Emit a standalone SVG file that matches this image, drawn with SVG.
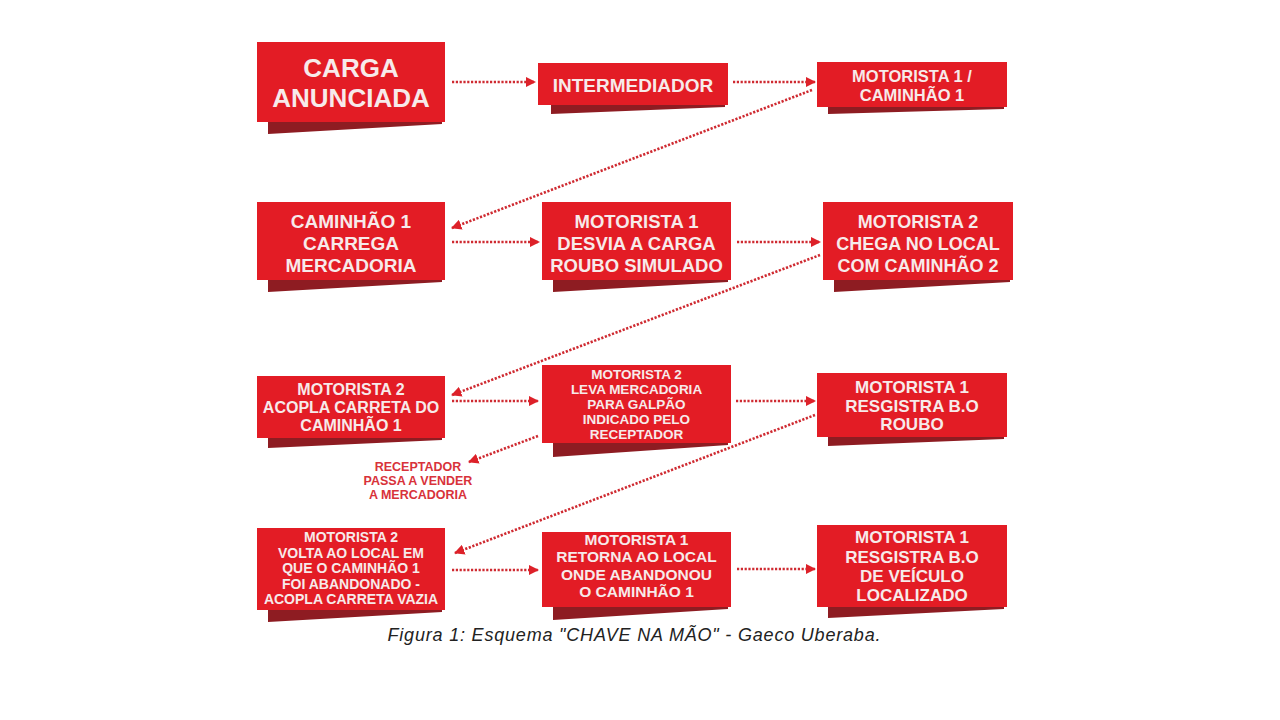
<svg xmlns="http://www.w3.org/2000/svg" width="1280" height="720" viewBox="0 0 1280 720">
<defs>
<style>
.box{fill:#e31c25}
.sh{fill:#8e1c22}
.t{font-family:"Liberation Sans",Arial,sans-serif;font-weight:bold;fill:#f7eaea;text-anchor:middle}
.c{fill:none;stroke:#cf2a31;stroke-width:2.6;stroke-dasharray:2.2 1.6}
.rt{font-family:"Liberation Sans",Arial,sans-serif;font-weight:bold;fill:#d8323a;text-anchor:middle;font-size:12.5px}
.cap{font-family:"Liberation Sans",Arial,sans-serif;font-style:italic;fill:#222;text-anchor:middle;font-size:18px}
</style>
<marker id="ah" viewBox="0 0 10 10" refX="9" refY="5" markerWidth="4" markerHeight="4" orient="auto" markerUnits="strokeWidth">
<path d="M0,0 L10,5 L0,10 z" fill="#dd2129"/>
</marker>
</defs>
<rect width="1280" height="720" fill="#ffffff"/>

<g id="connectors">
<line class="c" x1="452" y1="82" x2="535" y2="82" marker-end="url(#ah)"/>
<line class="c" x1="733" y1="82" x2="815" y2="82" marker-end="url(#ah)"/>
<line class="c" x1="812" y1="90" x2="452" y2="228" marker-end="url(#ah)"/>
<line class="c" x1="452" y1="242" x2="539" y2="242" marker-end="url(#ah)"/>
<line class="c" x1="737" y1="242" x2="820" y2="242" marker-end="url(#ah)"/>
<line class="c" x1="820" y1="255" x2="452" y2="395" marker-end="url(#ah)"/>
<line class="c" x1="452" y1="401" x2="538" y2="401" marker-end="url(#ah)"/>
<line class="c" x1="736" y1="401" x2="815" y2="401" marker-end="url(#ah)"/>
<line class="c" x1="538" y1="436" x2="469" y2="462" marker-end="url(#ah)"/>
<line class="c" x1="815" y1="415" x2="455" y2="553" marker-end="url(#ah)"/>
<line class="c" x1="452" y1="570" x2="538" y2="570" marker-end="url(#ah)"/>
<line class="c" x1="737" y1="569" x2="815" y2="569" marker-end="url(#ah)"/>
</g>

<g id="n1">
<polygon class="sh" points="268,122 442,122 442,124 268,134"/>
<rect class="box" x="257" y="42" width="188" height="80"/>
<text class="t" x="351" y="77" font-size="26">CARGA</text>
<text class="t" x="351" y="107" font-size="26">ANUNCIADA</text>
</g>
<g id="n2">
<polygon class="sh" points="551,105 725,105 725,107 551,114"/>
<rect class="box" x="538" y="63" width="190" height="42"/>
<text class="t" x="633" y="92" font-size="19">INTERMEDIADOR</text>
</g>
<g id="n3">
<polygon class="sh" points="828,107 1004,107 1004,109 828,114"/>
<rect class="box" x="817" y="62" width="190" height="45"/>
<text class="t" x="912" y="82" font-size="16.5">MOTORISTA 1 /</text>
<text class="t" x="912" y="101" font-size="16.5">CAMINHÃO 1</text>
</g>

<g id="n4">
<polygon class="sh" points="268,280 442,280 442,282 268,292"/>
<rect class="box" x="257" y="202" width="188" height="78"/>
<text class="t" x="351" y="228" font-size="19">CAMINHÃO 1</text>
<text class="t" x="351" y="250" font-size="19">CARREGA</text>
<text class="t" x="351" y="272" font-size="19">MERCADORIA</text>
</g>
<g id="n5">
<polygon class="sh" points="553,280 728,280 728,282 553,292"/>
<rect class="box" x="542" y="202" width="189" height="78"/>
<text class="t" x="636.5" y="228" font-size="18.5">MOTORISTA 1</text>
<text class="t" x="636.5" y="250" font-size="18.5">DESVIA A CARGA</text>
<text class="t" x="636.5" y="272" font-size="18.5">ROUBO SIMULADO</text>
</g>
<g id="n6">
<polygon class="sh" points="834,280 1010,280 1010,282 834,292"/>
<rect class="box" x="823" y="202" width="190" height="78"/>
<text class="t" x="918" y="228" font-size="18">MOTORISTA 2</text>
<text class="t" x="918" y="250" font-size="18">CHEGA NO LOCAL</text>
<text class="t" x="918" y="272" font-size="18">COM CAMINHÃO 2</text>
</g>

<g id="n7">
<polygon class="sh" points="268,438 442,438 442,440 268,448"/>
<rect class="box" x="257" y="376" width="188" height="62"/>
<text class="t" x="351" y="395" font-size="16">MOTORISTA 2</text>
<text class="t" x="351" y="413" font-size="16">ACOPLA CARRETA DO</text>
<text class="t" x="351" y="431" font-size="16">CAMINHÃO 1</text>
</g>
<g id="n8">
<polygon class="sh" points="553,443 728,443 728,445 553,457"/>
<rect class="box" x="542" y="365" width="189" height="78"/>
<text class="t" x="636.5" y="379" font-size="13.5">MOTORISTA 2</text>
<text class="t" x="636.5" y="394" font-size="13.5">LEVA MERCADORIA</text>
<text class="t" x="636.5" y="409" font-size="13.5">PARA GALPÃO</text>
<text class="t" x="636.5" y="424" font-size="13.5">INDICADO PELO</text>
<text class="t" x="636.5" y="439" font-size="13.5">RECEPTADOR</text>
</g>
<g id="n9">
<polygon class="sh" points="828,437 1004,437 1004,439 828,446"/>
<rect class="box" x="817" y="373" width="190" height="64"/>
<text class="t" x="912" y="393" font-size="17">MOTORISTA 1</text>
<text class="t" x="912" y="412" font-size="17">RESGISTRA B.O</text>
<text class="t" x="912" y="430" font-size="17">ROUBO</text>
</g>
<g id="n13">
<text class="rt" x="418" y="471">RECEPTADOR</text>
<text class="rt" x="418" y="485">PASSA A VENDER</text>
<text class="rt" x="418" y="499">A MERCADORIA</text>
</g>

<g id="n10">
<polygon class="sh" points="268,610 442,610 442,612 268,622"/>
<rect class="box" x="257" y="528" width="188" height="82"/>
<text class="t" x="351" y="542" font-size="14">MOTORISTA 2</text>
<text class="t" x="351" y="558" font-size="14">VOLTA AO LOCAL EM</text>
<text class="t" x="351" y="573" font-size="14">QUE O CAMINHÃO 1</text>
<text class="t" x="351" y="589" font-size="14">FOI ABANDONADO -</text>
<text class="t" x="351" y="604" font-size="14">ACOPLA CARRETA VAZIA</text>
</g>
<g id="n11">
<polygon class="sh" points="553,607 728,607 728,609 553,620"/>
<rect class="box" x="542" y="532" width="189" height="75"/>
<text class="t" x="636.5" y="545" font-size="15.5">MOTORISTA 1</text>
<text class="t" x="636.5" y="562" font-size="15.5">RETORNA AO LOCAL</text>
<text class="t" x="636.5" y="580" font-size="15.5">ONDE ABANDONOU</text>
<text class="t" x="636.5" y="597" font-size="15.5">O CAMINHÃO 1</text>
</g>
<g id="n12">
<polygon class="sh" points="828,607 1004,607 1004,609 828,618"/>
<rect class="box" x="817" y="525" width="190" height="82"/>
<text class="t" x="912" y="543" font-size="17">MOTORISTA 1</text>
<text class="t" x="912" y="563" font-size="17">RESGISTRA B.O</text>
<text class="t" x="912" y="582" font-size="17">DE VEÍCULO</text>
<text class="t" x="912" y="601" font-size="17">LOCALIZADO</text>
</g>

<text class="cap" x="634" y="641" textLength="493" lengthAdjust="spacing">Figura 1: Esquema "CHAVE NA MÃO" - Gaeco Uberaba.</text>
</svg>
